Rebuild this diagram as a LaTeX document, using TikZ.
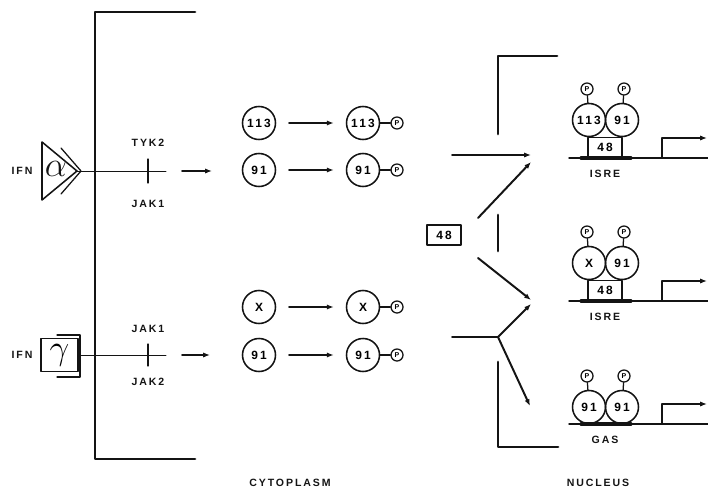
\documentclass[tikz,border=0pt]{standalone}
\usepackage{fontspec}
\setsansfont{Liberation Sans}[LetterSpace=18]
\usetikzlibrary{arrows.meta,calc,positioning}
\definecolor{ink}{HTML}{141414}
\tikzset{
  wall/.style={ink,line width=2.1pt},
  wire/.style={ink,line width=0.7pt},
  arr/.style={ink,line width=1.4pt,-{Latex[length=1.7mm,width=1.3mm]}},
  prot/.style={draw=ink,circle,line width=1.1pt,minimum size=0.825cm,inner sep=0pt,
    font=\sffamily\bfseries\fontsize{8.5}{8.5}\selectfont},
  phos/.style={draw=ink,circle,line width=0.9pt,minimum size=0.3cm,inner sep=0pt,
    font=\sffamily\bfseries\fontsize{5}{5}\selectfont},
  box48/.style={draw=ink,line width=1pt,minimum width=0.85cm,minimum height=0.5cm,inner sep=0pt,
    font=\sffamily\bfseries\fontsize{8.5}{8.5}\selectfont},
  lab/.style={text=ink,font=\sffamily\bfseries\fontsize{7.5}{7.5}\selectfont},
}
\newcommand{\phosrow}[3]{%
  \node[prot] (#1a) at (259,#2) {#3};
  \node[prot] (#1b) at (363,#2) {#3};
  \node[phos] (#1p) at (397,#2) {P};
  \draw[wire,line width=0.9pt] (#1b) -- (#1p);
  \draw[arr,shorten <=0.32cm,shorten >=0.3cm] (#1a) -- (#1b);
}
\newcommand{\dnasite}[6]{%
  % #1 name, #2 height of the DNA, #3 #4 proteins, #5 with 48 (1/0), #6 element
  \ifnum#5=1 \def\lift{38}\else\def\lift{17}\fi
  \coordinate (#1d) at (569,#2);
  \coordinate (#1e) at (708,#2);
  \draw[wire,line width=1pt] (#1d) -- (#1e);
  \draw[ink,line width=2.2pt] (581,#2) -- (631,#2);
  \ifnum#5=1
    \node[box48,anchor=south] (#1b) at (605,#2) {48};
  \fi
  \node[prot] (#1l) at (589,#2+\lift) {#3};
  \node[prot] (#1r) at (622,#2+\lift) {#4};
  \node[phos] (#1pl) at (587,#2+\lift+31) {P};
  \node[phos] (#1pr) at (624,#2+\lift+31) {P};
  \draw[wire,line width=0.9pt] (#1pl) -- (#1l);
  \draw[wire,line width=0.9pt] (#1pr) -- (#1r);
  \coordinate (#1s) at (662,#2);
  \coordinate (#1t) at (707,#2+20);
  \draw[arr,line width=1.1pt] (#1s) |- (#1t);
  \node[lab] (#1n) at (605,#2-16) {#6};
}

\begin{document}
\begin{tikzpicture}[x=0.025cm,y=0.025cm,line cap=round,line join=round]
  \path[use as bounding box] (0,0) rectangle (708,496);

  % plasma membrane and nuclear envelope
  \draw[wall] (195,484) -- (95,484) -- (95,37) -- (195,37);
  \draw[wall] (557,440) -- (498,440) -- (498,362);
  \draw[wall] (498,281) -- (498,245);
  \draw[wall] (498,134) -- (498,49) -- (558,49);

  % IFN alpha receptor
  \node[lab] (ifnA) at (22,325) {IFN};
  \coordinate (aTip) at (77,325);
  \draw[ink,line width=1.1pt] (42,354) -- (aTip) -- (42,296) -- cycle;
  \draw[wire,line width=0.9pt] (61,348) -- (81,325) -- (61,302);
  \node[text=ink,font=\fontsize{26}{26}\selectfont] (alpha) at (56,327) {$\alpha$};
  \coordinate (aEnd) at (166,325);
  \coordinate (aKin) at (148,325);
  \draw[wire] (aTip) -- (aEnd);
  \draw[wire,line width=0.9pt] ($(aKin)+(0,12)$) -- ($(aKin)+(0,-12)$);
  \node[lab] (tyk2) at (148,353) {TYK2};
  \node[lab] (jak1a) at (148,292) {JAK1};
  \coordinate (aGo) at (182,325);
  \coordinate (aTo) at (212,325);
  \draw[arr] (aGo) -- (aTo);

  % IFN gamma receptor
  \node[lab] (ifnG) at (22,141) {IFN};
  \draw[wire,line width=0.9pt] (57,161) -- (80,161) -- (80,119) -- (57,119);
  \node[draw=ink,fill=white,line width=1.1pt,minimum width=0.925cm,minimum height=0.825cm,inner sep=0pt,
    font=\fontsize{26}{26}\selectfont] (gbox) at (59.5,141) {$\gamma$};
  \coordinate (gEnd) at (166,141);
  \coordinate (gKin) at (148,141);
  \draw[wire] (gbox.east) -- (gEnd);
  \draw[wire,line width=0.9pt] ($(gKin)+(0,11)$) -- ($(gKin)+(0,-11)$);
  \node[lab] (jak1g) at (148,167) {JAK1};
  \node[lab] (jak2) at (148,114) {JAK2};
  \coordinate (gGo) at (182,141);
  \coordinate (gTo) at (210,141);
  \draw[arr] (gGo) -- (gTo);

  % phosphorylation in the cytoplasm
  \foreach \nm/\y/\txt in {tA/373/113,tB/326/91,tC/189/X,tD/141/91}
    {\phosrow{\nm}{\y}{\txt}}

  % translocation
  \node[box48] (free48) at (444,261) {48};
  \coordinate (inA) at (452,341);
  \coordinate (toA) at (531,341);
  \coordinate (upB) at (478,278);
  \coordinate (toB) at (531,334);
  \coordinate (dnC) at (478,238);
  \coordinate (toC) at (531,196);
  \coordinate (inD) at (452,159);
  \coordinate (fork) at (498,159);
  \coordinate (toD) at (531,192);
  \coordinate (toE) at (530,90);
  \draw[arr] (inA) -- (toA);
  \draw[arr] (upB) -- (toB);
  \draw[arr] (dnC) -- (toC);
  \draw[ink,line width=1.4pt] (inD) -- (fork);
  \draw[arr] (fork) -- (toD);
  \draw[arr] (fork) -- (toE);

  % binding sites in the nucleus
  \dnasite{sA}{338}{113}{91}{1}{ISRE}
  \dnasite{sB}{195}{X}{91}{1}{ISRE}
  \dnasite{sC}{72}{91}{91}{0}{GAS}

  \node[lab] (cyto) at (290,13) {CYTOPLASM};
  \node[lab] (nucl) at (598,13) {NUCLEUS};
\end{tikzpicture}
\end{document}
